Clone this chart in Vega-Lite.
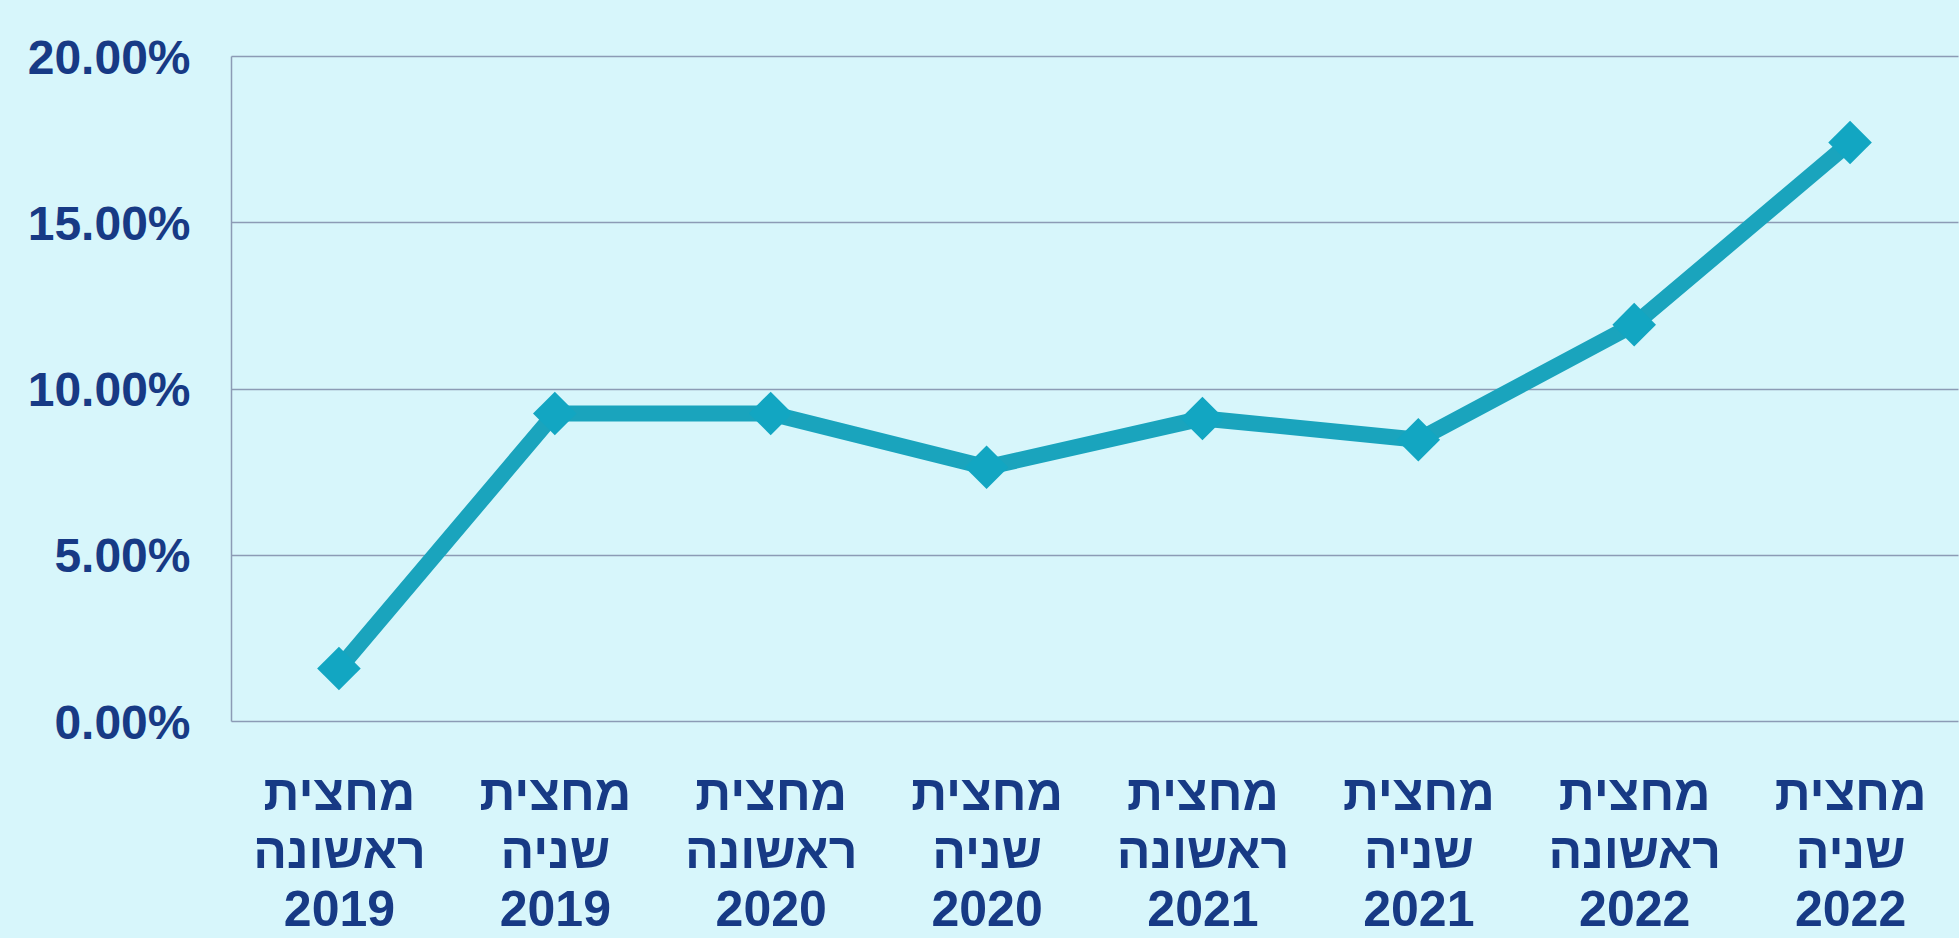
{
  "$schema": "https://vega.github.io/schema/vega-lite/v6.json",
  "autosize": {"type": "none"},
  "width": 1727,
  "height": 665,
  "padding": {"left": 231, "top": 56, "right": 1, "bottom": 217},
  "background": "#d7f6fb",
  "config": {
    "view": {"stroke": null},
    "font": "Liberation Sans"
  },
  "data": {
    "values": [
      {"period": "מחצית ראשונה 2019", "value": 0.0158},
      {"period": "מחצית שניה 2019", "value": 0.0925},
      {"period": "מחצית ראשונה 2020", "value": 0.0925},
      {"period": "מחצית שניה 2020", "value": 0.0763},
      {"period": "מחצית ראשונה 2021", "value": 0.091},
      {"period": "מחצית שניה 2021", "value": 0.0846},
      {"period": "מחצית ראשונה 2022", "value": 0.1192},
      {"period": "מחצית שניה 2022", "value": 0.174}
    ]
  },
  "encoding": {
    "x": {
      "field": "period",
      "type": "ordinal",
      "sort": null,
      "scale": {"type": "point", "padding": 0.5},
      "axis": {
        "title": null,
        "labelAngle": 0,
        "labelExpr": "split(datum.value, ' ')",
        "labelFont": "Liberation Sans",
        "labelFontWeight": "bold",
        "labelFontSize": 50,
        "labelColor": "#173a85",
        "labelLineHeight": 58,
        "labelBaseline": "top",
        "labelPadding": 48,
        "ticks": false,
        "domain": false,
        "grid": false
      }
    },
    "y": {
      "field": "value",
      "type": "quantitative",
      "scale": {"domain": [0, 0.2]},
      "axis": {
        "title": null,
        "values": [0, 0.05, 0.1, 0.15, 0.2],
        "format": ".2%",
        "labelFont": "Liberation Sans",
        "labelFontWeight": "bold",
        "labelFontSize": 48,
        "labelColor": "#173a85",
        "labelPadding": 41,
        "labelOffset": 3,
        "ticks": false,
        "domain": true,
        "domainColor": "#8c9bb5",
        "domainWidth": 1.5,
        "grid": true,
        "gridColor": "#8c9bb5",
        "gridWidth": 1.5,
        "gridOpacity": 1
      }
    }
  },
  "layer": [
    {
      "mark": {"type": "line", "color": "#1aa4bd", "strokeWidth": 16, "strokeJoin": "miter"}
    },
    {
      "mark": {"type": "point", "shape": "diamond", "size": 1900, "filled": true, "color": "#12a6c2", "opacity": 1}
    }
  ]
}
